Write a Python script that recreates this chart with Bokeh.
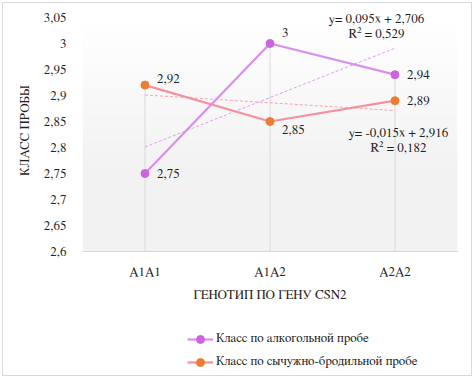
import numpy as np
from bokeh.plotting import figure
from bokeh.layouts import column
from bokeh.models import (Range1d, FixedTicker, Legend, LegendItem, Label)
from bokeh.embed import file_html
from bokeh.resources import INLINE

# ---- data ----
categories = ["A1A1", "A1A2", "A2A2"]
alcohol = [2.75, 3.0, 2.94]
rennet = [2.92, 2.85, 2.89]
alcohol_labels = ["2,75", "3", "2,94"]
rennet_labels = ["2,92", "2,85", "2,89"]
trend_alcohol = [0.095, 2.706, 0.529]   # slope, intercept, R2
trend_rennet = [-0.015, 2.916, 0.182]
y_ticks = [2.6, 2.65, 2.7, 2.75, 2.8, 2.85, 2.9, 2.95, 3.0, 3.05]
series_names = ["Класс по алкогольной пробе", "Класс по сычужно-бродильной пробе"]
x_title = "ГЕНОТИП ПО ГЕНУ CSN2"
y_title = "КЛАСС ПРОБЫ"

FONT = "FreeSerif"
FS = "13px"
TXT = "#1f1f1f"
C_A_LINE, C_A_MARK = "#DA8FEA", "#CB65DF"
C_R_LINE, C_R_MARK = "#F4919E", "#ED7D31"
xs = list(range(1, len(categories) + 1))
y_min, y_max = y_ticks[0], y_ticks[-1]

p = figure(width=468, height=307, output_backend="svg", toolbar_location=None,
           x_range=Range1d(0.5, 3.5), y_range=Range1d(y_min, y_max + 8 / 520),
           min_border_left=79, min_border_right=14, min_border_top=6, min_border_bottom=59)
p.outline_line_color = None
p.background_fill_color = None

# background gradient of plot area
n = 200
img = np.zeros((n, 1), dtype=np.uint32)
view = img.view(dtype=np.uint8).reshape((n, 1, 4))
for i in range(n):
    t = i / (n - 1)  # 0 bottom -> 1 top
    c = 242 if t < 0.35 else int(round(242 + 13 * (t - 0.35) / 0.65))
    view[i, 0, :3] = c
    view[i, 0, 3] = 255
bg = p.image_rgba(image=[img], x=0.5, y=y_min, dw=3.0, dh=y_max - y_min)
bg.level = "image"

# axes
p.xaxis.ticker = FixedTicker(ticks=xs)
p.xaxis.major_label_overrides = {x: c for x, c in zip(xs, categories)}
p.yaxis.ticker = FixedTicker(ticks=y_ticks)
p.yaxis.major_label_overrides = {t: (f"{t:g}").replace(".", ",") for t in y_ticks}
for ax in (p.xaxis, p.yaxis):
    ax.major_tick_line_color = None
    ax.minor_tick_line_color = None
    ax.major_label_text_font = FONT
    ax.major_label_text_font_size = FS
    ax.major_label_text_color = TXT
    ax.axis_label_text_font = FONT
    ax.axis_label_text_font_size = FS
    ax.axis_label_text_font_style = "normal"
    ax.axis_label_text_color = TXT
p.yaxis.axis_line_color = None
p.xaxis.axis_line_color = "#d9d9d9"
p.yaxis.major_label_standoff = 10
p.xaxis.major_label_standoff = 8
p.xaxis.axis_label = x_title
p.yaxis.axis_label = y_title
p.xaxis.axis_label_standoff = 7
p.yaxis.axis_label_standoff = 9
p.grid.grid_line_color = None

# drop lines (from highest point down to the axis)
tops = [max(a, r) for a, r in zip(alcohol, rennet)]
p.segment(x0=xs, y0=[y_min] * len(xs), x1=xs, y1=tops, line_color="#d9d9d9", line_width=1)

# trendlines
for coef, col in ((trend_alcohol, "#E39CF0"), (trend_rennet, "#F5A3AE")):
    ty = [coef[0] * x + coef[1] for x in xs]
    p.line(xs, ty, line_color=col, line_width=1, line_dash="3 2")

# series
p.line(xs, alcohol, line_color=C_A_LINE, line_width=2.25)
p.scatter(xs, alcohol, size=8, fill_color=C_A_MARK, line_color=C_A_MARK)
p.line(xs, rennet, line_color=C_R_LINE, line_width=2.25)
p.scatter(xs, rennet, size=8, fill_color=C_R_MARK, line_color=C_R_MARK)

# data labels
a_off = [(12, 0), (12, 11), (12, 0)]
r_off = [(12, 7), (12, -8), (12, 0)]
for vals, labs, offs in ((alcohol, alcohol_labels, a_off), (rennet, rennet_labels, r_off)):
    for x, v, t, (ox, oy) in zip(xs, vals, labs, offs):
        p.add_layout(Label(x=x, y=v, text=t, x_offset=ox, y_offset=oy,
                           text_font=FONT, text_font_size=FS, text_color=TXT,
                           text_align="left", text_baseline="middle"))

def eq_text(coef):
    a, b, r2 = coef
    sign = "+" if b >= 0 else "-"
    return (f"y= {a:.3f}x {sign} {abs(b):.3f}").replace(".", ","), (f"R² = {r2:.3f}").replace(".", ",")

for coef, ex, ey in ((trend_alcohol, 2.852, 3.047), (trend_rennet, 3.028, 2.827)):
    t1, t2 = eq_text(coef)
    p.add_layout(Label(x=ex, y=ey, text=t1, text_font=FONT, text_font_size=FS,
                       text_color=TXT, text_align="center", text_baseline="middle"))
    p.add_layout(Label(x=ex, y=ey, y_offset=-15, text=t2, text_font=FONT, text_font_size=FS,
                       text_color=TXT, text_align="center", text_baseline="middle"))

# legend in its own strip below the chart (proxy renderers lie outside the visible range)
q = figure(width=468, height=65, output_backend="svg", toolbar_location=None,
           x_range=Range1d(0, 1), y_range=Range1d(0, 1), x_axis_type=None, y_axis_type=None,
           min_border_left=0, min_border_right=0, min_border_top=0, min_border_bottom=0)
q.outline_line_color = None
q.grid.grid_line_color = None
la = q.line(x=[-5, -4], y=[-5, -5], line_color=C_A_LINE, line_width=2.25)
sa = q.scatter(x=[-5], y=[-5], size=8, fill_color=C_A_MARK, line_color=C_A_MARK)
lr = q.line(x=[-5, -4], y=[-5, -5], line_color=C_R_LINE, line_width=2.25)
sr = q.scatter(x=[-5], y=[-5], size=8, fill_color=C_R_MARK, line_color=C_R_MARK)
legend = Legend(items=[LegendItem(label=series_names[0], renderers=[la, sa]),
                       LegendItem(label=series_names[1], renderers=[lr, sr])],
                orientation="vertical", location=(105, 3))
legend.label_text_font = FONT
legend.label_text_font_size = FS
legend.label_text_color = TXT
legend.border_line_color = None
legend.background_fill_alpha = 0
legend.glyph_width = 26
legend.label_standoff = 3
legend.spacing = 3
legend.padding = 5
legend.margin = 0
q.add_layout(legend)

layout = column(p, q, spacing=0)
layout.styles = {"border": "1px solid #d9d9d9", "margin": "2px"}

open("out.html", "w").write(file_html(layout, INLINE))
